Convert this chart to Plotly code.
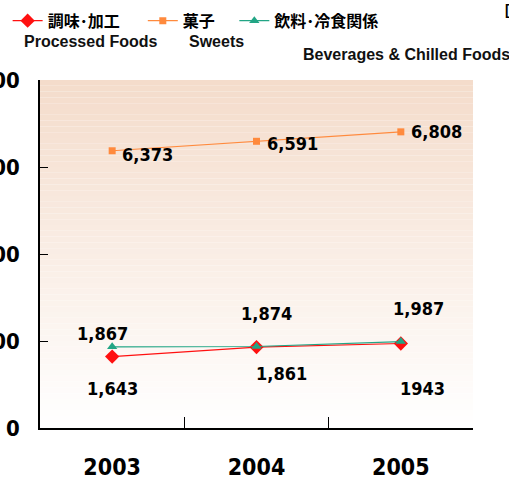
import plotly.graph_objects as go

years = ["2003", "2004", "2005"]
processed = [1643, 1861, 1943]
sweets = [6373, 6591, 6808]
beverages = [1867, 1874, 1987]
processed_labels = ["1,643", "1,861", "1943"]
sweets_labels = ["6,373", "6,591", "6,808"]
beverages_labels = ["1,867", "1,874", "1,987"]
series_names = ["調味･加工", "菓子", "飲料･冷食関係"]
english_names = ["Processed Foods", "Sweets", "Beverages & Chilled Foods"]
y_ticks = [0, 2000, 4000, 6000, 8000]

NUM_FONT = "Liberation Sans Narrow, DejaVu Sans Condensed, Arial Narrow, sans-serif"
JP_FONT = "Noto Sans CJK JP, sans-serif"
EN_FONT = "Liberation Sans, Arial, sans-serif"
NB = "\u00a0"

fig = go.Figure()
fig.add_trace(go.Scatter(x=years, y=processed, name=series_names[0] + NB * 5, mode="lines+markers",
                         line=dict(color="#FF1010", width=1.2),
                         marker=dict(symbol="diamond", size=11, color="#FF1010")))
fig.add_trace(go.Scatter(x=years, y=sweets, name=series_names[1] + NB * 4, mode="lines+markers",
                         line=dict(color="#FF8A3D", width=1.2),
                         marker=dict(symbol="square", size=7, color="#FF8A3D")))
fig.add_trace(go.Scatter(x=years, y=beverages, name=series_names[2], mode="lines+markers",
                         line=dict(color="#22A585", width=1.2),
                         marker=dict(symbol="triangle-up", size=9, color="#22A585")))

# gradient background strips (paper coordinates)
shapes = []
n = 60
top = (244, 220, 203)
bot = (255, 255, 255)
for i in range(n):
    f = i / (n - 1)
    c = tuple(round(top[k] + (bot[k] - top[k]) * f) for k in range(3))
    shapes.append(dict(type="rect", xref="paper", yref="paper", x0=0, x1=1,
                       y0=1 - (i + 1) / n, y1=1 - i / n, line=dict(width=0),
                       fillcolor="rgb(%d,%d,%d)" % c, layer="below"))

annotations = []
label_font = dict(family=NUM_FONT, size=18, color="black", weight="bold")
sweets_shift = [(8, -4), (8, -2), (8, 0)]
proc_shift = [(0, -32), (25, -26), (22, -45)]
bev_shift = [(-10, 13), (10, 33), (18, 33)]
for i in range(len(years)):
    annotations.append(dict(x=i, y=sweets[i], text=sweets_labels[i], showarrow=False,
                            xanchor="left", yanchor="middle",
                            xshift=sweets_shift[i][0], yshift=sweets_shift[i][1], font=label_font))
    annotations.append(dict(x=i, y=processed[i], text=processed_labels[i], showarrow=False,
                            xanchor="center", yanchor="middle",
                            xshift=proc_shift[i][0], yshift=proc_shift[i][1], font=label_font))
    annotations.append(dict(x=i, y=beverages[i], text=beverages_labels[i], showarrow=False,
                            xanchor="center", yanchor="middle",
                            xshift=bev_shift[i][0], yshift=bev_shift[i][1], font=label_font))

en_font = dict(family=EN_FONT, size=16, color="#111111", weight="bold")
en_pos = [(23, 41), (188, 41), (302, 54)]
for name, (px, py) in zip(english_names, en_pos):
    annotations.append(dict(xref="paper", yref="paper", x=(px - 40) / 433, y=(428 - py) / 348,
                            text=name, showarrow=False, xanchor="left", yanchor="middle",
                            xshift=-1, font=en_font))
annotations.append(dict(xref="paper", yref="paper", x=(503 - 40) / 433, y=(428 - 10) / 348,
                        text="[億円]", showarrow=False, xanchor="left", yanchor="middle",
                        font=dict(family=EN_FONT, size=14, color="black", weight="bold")))

fig.update_layout(
    width=509, height=478,
    margin=dict(l=40, r=36, t=80, b=50, autoexpand=False),
    paper_bgcolor="white", plot_bgcolor="rgba(0,0,0,0)",
    shapes=shapes, annotations=annotations,
    showlegend=True,
    legend=dict(orientation="h", xref="container", yref="container", x=0.015, y=0.992,
                xanchor="left", yanchor="top",
                font=dict(family=JP_FONT, size=16, color="black", weight="bold"),
                bgcolor="rgba(0,0,0,0)", itemwidth=30, tracegroupgap=0),
    xaxis=dict(type="category", range=[-0.5, 2.5], showgrid=False, zeroline=False,
               showline=True, linecolor="black", linewidth=1.5,
               ticks="inside", tickson="boundaries", ticklen=11, tickcolor="black", tickwidth=1,
               tickfont=dict(family=NUM_FONT, size=23, color="black", weight="bold"),
               ticklabelstandoff=18),
    yaxis=dict(range=[0, 8000], tickvals=y_ticks, showgrid=False, zeroline=False,
               showline=True, linecolor="black", linewidth=1.5,
               ticks="inside", ticklen=8, tickcolor="black", tickwidth=1,
               tickfont=dict(family=NUM_FONT, size=22, color="black", weight="bold"),
               ticklabelstandoff=14, automargin=False),
)

fig.write_html("out.html", config={"displayModeBar": False},
               post_script="document.body.style.margin='0';")
